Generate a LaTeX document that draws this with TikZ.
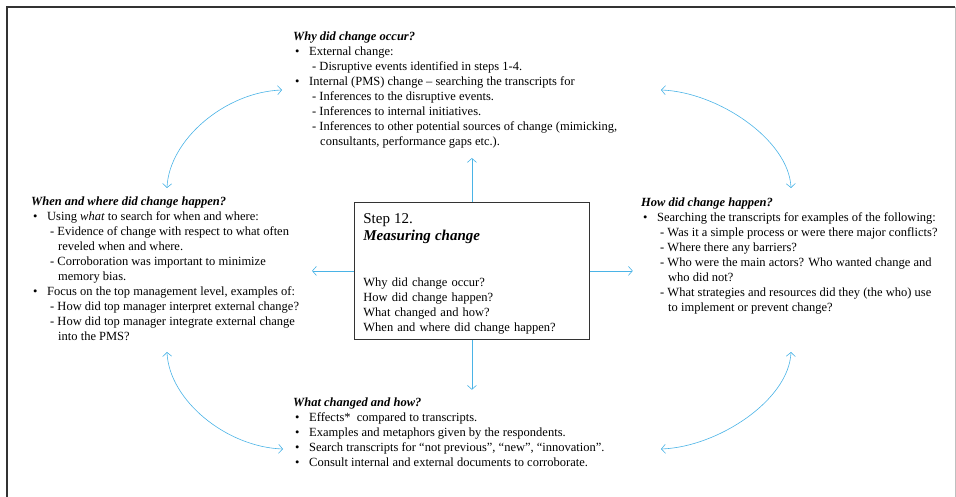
\documentclass[tikz,border=0pt]{standalone}
\usepackage{fontspec}
\setmainfont{Liberation Serif}
\usetikzlibrary{arrows.meta, positioning}
\definecolor{flow_blue}{HTML}{4AB3E6}
\colorlet{flowblue}{flow_blue}
\tikzset{
  question/.style={anchor=north west,align=left,inner sep=0pt,font=\fontsize{12.5}{15}\selectfont},
  stepbox/.style={draw=black!80,line width=0.8pt,anchor=north west,align=left,text width=217pt,inner xsep=9pt,inner ysep=0pt,minimum height=137pt,font=\fontsize{12.5}{15}\selectfont},
  flow/.style={draw=flowblue,line width=0.6pt,-{Straight Barb[length=4pt,width=9pt]}},
  flowx/.style={flow,{Straight Barb[length=4pt,width=9pt]}-{Straight Barb[length=4pt,width=9pt]}},
  frame/.style={draw=black!80,line width=1.5pt},
}
\newcommand{\qtitle}[1]{\strut\textbf{\textit{#1}}}
\newcommand{\bitem}[1]{\hspace*{2pt}\makebox[14pt][l]{\textbullet}#1}
\newcommand{\ditem}[1]{\hspace*{19pt}- #1}
\newcommand{\citem}[1]{\hspace*{27pt}#1}

\begin{document}
\begin{tikzpicture}[x=1pt,y=-1pt]
 \useasboundingbox (0,0) rectangle (956,497);
 \draw[frame] (7,497) -- (7,7) -- (955,7);
 \draw[gray!50,line width=0.8pt] (955,7) -- (955,497);
 %\node[stepbox] (BOX) at (471.5,270.5) {...};
	    \node[stepbox] (BOX) at (354,202) {{\fontsize{15}{17}\selectfont\rule{0pt}{16pt}Step 12.\\[2pt] \textbf{\textit{Measuring change}}}\\[31pt]
	      Why did change occur?\\ How did change happen?\\ What changed and how?\\ When and where did change happen?};
	    \node[question] (WHY) at (293,29.5) {\qtitle{Why did change occur?}\\
	      \bitem{External change:}\\
	      \ditem{Disruptive events identified in steps 1-4.}\\
	      \bitem{Internal (PMS) change -- searching the transcripts for}\\
	      \ditem{Inferences to the disruptive events.}\\
	      \ditem{Inferences to internal initiatives.}\\
	      \ditem{Inferences to other potential sources of change (mimicking,}\\
	      \citem{consultants, performance gaps etc.).}};
	    \node[question] (WHEN) at (31,194.5) {\qtitle{When and where did change happen?}\\
	      \bitem{Using \textit{what} to search for when and where:}\\
	      \ditem{Evidence of change with respect to what often}\\
	      \citem{reveled when and where.}\\
	      \ditem{Corroboration was important to minimize}\\
	      \citem{memory bias.}\\
	      \bitem{Focus on the top management level, examples of:}\\
	      \ditem{How did top manager interpret external change?}\\
	      \ditem{How did top manager integrate external change}\\
	      \citem{into the PMS?}};
	    \node[question] (HOW) at (641,195.5) {\qtitle{How did change happen?}\\
	      \bitem{Searching the transcripts for examples of the following:}\\
	      \ditem{Was it a simple process or were there major conflicts?}\\
	      \ditem{Where there any barriers?}\\
	      \ditem{Who were the main actors? Who wanted change and}\\
	      \citem{who did not?}\\
	      \ditem{What strategies and resources did they (the who) use}\\
	      \citem{to implement or prevent change?}};
	    \node[question] (WHAT) at (293,395.5) {\qtitle{What changed and how?}\\
	      \bitem{Effects*\ \ compared to transcripts.}\\
	      \bitem{Examples and metaphors given by the respondents.}\\
	      \bitem{Search transcripts for “not previous”, “new”, “innovation”.}\\
	      \bitem{Consult internal and external documents to corroborate.}};
	    \coordinate[above=44pt of BOX.north] (UPTIP);
	    \coordinate[below=50pt of BOX.south] (DOWNTIP);
	    \coordinate[left=42pt of BOX.west] (LEFTTIP);
	    \coordinate[right=43pt of BOX.east] (RIGHTTIP);
	    \draw[flow] (BOX.north) -- (UPTIP);
	    \draw[flow] (BOX.south) -- (DOWNTIP);
	    \draw[flow] (BOX.west) -- (LEFTTIP);
	    \draw[flow] (BOX.east) -- (RIGHTTIP);
	    \coordinate (TLA) at (167,188); \coordinate (TLB) at (282,90);
	    \coordinate (TRA) at (661,90);  \coordinate (TRB) at (791,188);
	    \coordinate (BLA) at (167,352); \coordinate (BLB) at (283,449);
	    \coordinate (BRA) at (791,352); \coordinate (BRB) at (661,449);
	    \draw[flowx] (TLA) .. controls (169,140) and (225,92) .. (TLB);
	    \draw[flowx] (TRA) .. controls (718,92) and (789,140) .. (TRB);
	    \draw[flowx] (BLA) .. controls (169,400) and (226,447) .. (BLB);
	    \draw[flowx] (BRA) .. controls (789,400) and (718,447) .. (BRB);
	\end{tikzpicture}
\end{document}
